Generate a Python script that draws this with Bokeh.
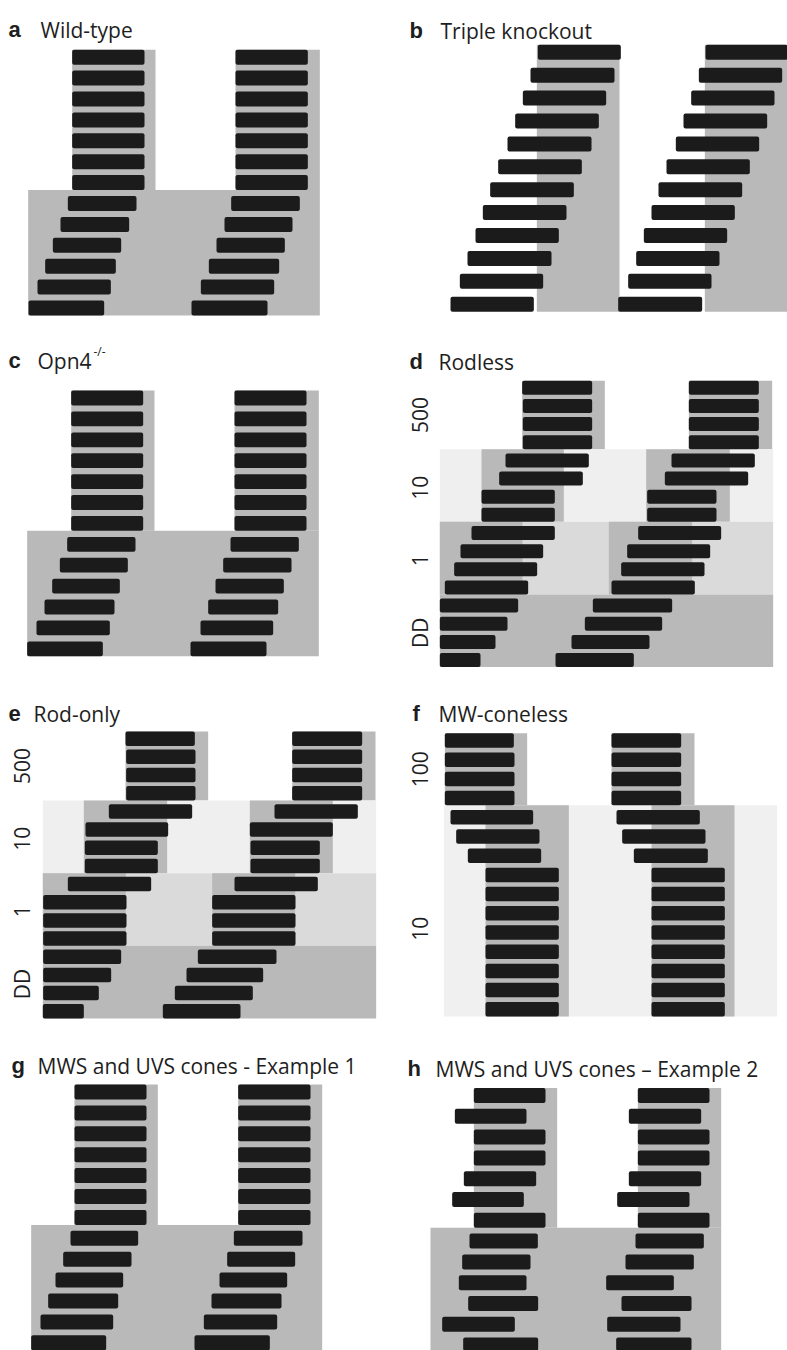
import math

from bokeh.embed import file_html
from bokeh.layouts import column, row
from bokeh.models import Label, Range1d
from bokeh.plotting import figure
from bokeh.resources import INLINE

# ---------------------------------------------------------------------------
# Schematic double-plotted actograms. Times are hours from the left edge of
# each actogram, rows are consecutive days (day 1 at the top).
# ---------------------------------------------------------------------------

# a  Wild-type
A_LEFT_ON = [6.6, 6.6, 6.6, 6.6, 6.6, 6.6, 6.6, 5.95, 4.85, 3.7, 2.55, 1.4, 0.05]
A_LEFT_OFF = [17.45, 17.45, 17.45, 17.45, 17.45, 17.45, 17.45, 16.25, 15.15, 13.95, 13.15, 12.4, 11.4]
A_RIGHT_ON = [31.1, 31.1, 31.1, 31.1, 31.1, 31.1, 31.1, 30.45, 29.45, 28.25, 27.1, 25.9, 24.5]
A_RIGHT_OFF = [41.95, 41.95, 41.95, 41.95, 41.95, 41.95, 41.95, 40.75, 39.65, 38.5, 37.65, 36.9, 35.9]
A_BLOCK_FIRST = [1, 8]
A_BLOCK_LAST = [7, 13]
A_BLOCK_LIGHT = [None, None]
A_DARK_START = [[6.6, 31.1], [0.0]]
A_DARK_END = [[19.1, 43.75], [43.75]]

# b  Triple knockout
B_LEFT_ON = [13.1, 12.0, 10.85, 9.7, 8.55, 7.15, 5.95, 4.85, 3.75, 2.55, 1.4, 0.0]
B_LEFT_OFF = [25.55, 24.6, 23.35, 22.25, 21.15, 19.7, 18.5, 17.4, 16.25, 15.15, 13.9, 12.5]
B_RIGHT_ON = [38.25, 37.25, 36.1, 34.95, 33.8, 32.4, 31.2, 30.15, 29.0, 27.85, 26.65, 25.15]
B_RIGHT_OFF = [50.7, 49.75, 48.6, 47.5, 46.3, 44.9, 43.75, 42.65, 41.5, 40.35, 39.15, 37.75]
B_BLOCK_FIRST = [1]
B_BLOCK_LAST = [12]
B_BLOCK_LIGHT = [None]
B_DARK_START = [[12.95, 38.15]]
B_DARK_END = [[25.35, 50.7]]

# c  Opn4 -/-
C_LEFT_ON = [6.6, 6.6, 6.6, 6.6, 6.6, 6.6, 6.6, 6.0, 4.9, 3.75, 2.6, 1.4, 0.0]
C_LEFT_OFF = [17.4, 17.4, 17.4, 17.4, 17.4, 17.4, 17.4, 16.25, 15.1, 13.9, 13.1, 12.4, 11.35]
C_RIGHT_ON = [31.1, 31.1, 31.1, 31.1, 31.1, 31.1, 31.1, 30.5, 29.4, 28.25, 27.15, 26.0, 24.5]
C_RIGHT_OFF = [41.9, 41.9, 41.9, 41.9, 41.9, 41.9, 41.9, 40.75, 39.65, 38.5, 37.65, 36.9, 35.9]
C_BLOCK_FIRST = [1, 8]
C_BLOCK_LAST = [7, 13]
C_BLOCK_LIGHT = [None, None]
C_DARK_START = [[6.6, 31.1], [0.0]]
C_DARK_END = [[19.1, 43.75], [43.75]]

# d  Rodless (light intensity in lux per block)
D_LEFT_ON = [12.35, 12.45, 12.45, 12.45, 9.85, 8.9, 6.25, 6.25, 4.75, 3.1, 2.15, 0.75, 0.0, 0.0, 0.0, 0.0]
D_LEFT_OFF = [22.85, 22.85, 22.85, 22.85, 22.35, 21.45, 17.25, 17.25, 17.25, 15.5, 14.6, 13.25, 11.75, 10.15, 8.35, 6.1]
D_RIGHT_ON = [37.35, 37.35, 37.35, 37.35, 34.75, 33.75, 31.1, 31.1, 29.75, 28.1, 27.2, 25.75, 22.95, 21.75, 19.75, 17.35]
D_RIGHT_OFF = [47.85, 47.85, 47.85, 47.85, 47.25, 46.25, 41.5, 41.5, 42.2, 40.55, 39.7, 38.25, 34.85, 33.35, 31.45, 29.1]
D_BLOCK_FIRST = [1, 5, 9, 13]
D_BLOCK_LAST = [4, 8, 12, 16]
D_BLOCK_LABELS = ["500", "10", "1", "DD"]
D_BLOCK_LIGHT = [None, "#efefef", "#dadada", None]
D_DARK_START = [[12.35, 37.35], [6.25, 30.95], [0.0, 25.35], [0.0]]
D_DARK_END = [[24.75, 49.85], [18.6, 43.5], [12.4, 37.85], [50.0]]

# e  Rod-only
E_LEFT_ON = [12.4, 12.5, 12.5, 12.5, 9.9, 6.4, 6.3, 6.3, 3.75, 0.05, 0.05, 0.05, 0.05, 0.05, 0.05, 0.0]
E_LEFT_OFF = [22.8, 22.9, 22.9, 22.9, 22.4, 18.8, 17.25, 17.25, 16.25, 12.55, 12.55, 12.55, 11.75, 10.25, 8.4, 6.15]
E_RIGHT_ON = [37.4, 37.4, 37.4, 37.4, 34.75, 31.05, 31.15, 31.15, 28.75, 25.4, 25.4, 25.4, 23.25, 21.55, 19.8, 18.0]
E_RIGHT_OFF = [47.9, 47.9, 47.9, 47.9, 47.25, 43.5, 41.55, 41.55, 41.25, 37.9, 37.9, 37.9, 35.05, 33.05, 31.5, 29.65]
E_BLOCK_FIRST = [1, 5, 9, 13]
E_BLOCK_LAST = [4, 8, 12, 16]
E_BLOCK_LABELS = ["500", "10", "1", "DD"]
E_BLOCK_LIGHT = [None, "#efefef", "#dadada", None]
E_DARK_START = [[12.4, 37.4], [6.15, 31.05], [0.0, 25.4], [0.0]]
E_DARK_END = [[24.8, 49.9], [18.65, 43.5], [12.45, 37.85], [50.0]]

# f  MW-coneless
F_LEFT_ON = [0.15, 0.15, 0.15, 0.15, 1.0, 1.85, 3.6, 6.25, 6.25, 6.25, 6.25, 6.25, 6.25, 6.25, 6.25]
F_LEFT_OFF = [10.5, 10.6, 10.6, 10.6, 13.4, 14.35, 14.6, 17.25, 17.25, 17.25, 17.25, 17.25, 17.25, 17.25, 17.25]
F_RIGHT_ON = [25.15, 25.15, 25.15, 25.15, 25.9, 26.75, 28.5, 31.15, 31.15, 31.15, 31.15, 31.15, 31.15, 31.15, 31.15]
F_RIGHT_OFF = [35.6, 35.6, 35.6, 35.6, 38.4, 39.25, 39.6, 42.15, 42.15, 42.15, 42.15, 42.15, 42.15, 42.15, 42.15]
F_BLOCK_FIRST = [1, 5]
F_BLOCK_LAST = [4, 15]
F_BLOCK_LABELS = ["100", "10"]
F_LABEL_ROWS = [2.5, 10.8]
F_BLOCK_LIGHT = [None, "#f0f0f0"]
F_DARK_START = [[0.15, 25.15], [6.25, 31.15]]
F_DARK_END = [[12.5, 37.6], [18.75, 43.6]]

# g  MWS and UVS cones - Example 1
G_LEFT_ON = [6.5, 6.5, 6.5, 6.5, 6.5, 6.5, 6.5, 5.9, 4.8, 3.65, 2.55, 1.4, 0.0]
G_LEFT_OFF = [17.3, 17.3, 17.3, 17.3, 17.3, 17.3, 17.3, 16.05, 15.05, 13.8, 13.05, 12.3, 11.25]
G_RIGHT_ON = [31.05, 31.05, 31.05, 31.05, 31.05, 31.05, 31.05, 30.4, 29.4, 28.25, 27.05, 25.9, 24.5]
G_RIGHT_OFF = [41.9, 41.9, 41.9, 41.9, 41.9, 41.9, 41.9, 40.7, 39.6, 38.4, 37.55, 36.9, 35.8]
G_BLOCK_FIRST = [1, 8]
G_BLOCK_LAST = [7, 13]
G_BLOCK_LIGHT = [None, None]
G_DARK_START = [[6.5, 31.05], [0.0]]
G_DARK_END = [[19.0, 43.65], [43.65]]

# h  MWS and UVS cones – Example 2
H_LEFT_ON = [6.5, 3.65, 6.5, 6.5, 5.0, 3.25, 6.5, 5.85, 4.75, 4.25, 5.65, 1.75, 4.9]
H_LEFT_OFF = [17.25, 14.4, 17.25, 17.25, 15.85, 14.0, 17.25, 16.1, 15.0, 14.4, 16.15, 12.65, 16.15]
H_RIGHT_ON = [31.1, 29.75, 31.1, 31.1, 29.75, 28.0, 31.1, 30.75, 29.25, 26.35, 28.65, 26.5, 27.85]
H_RIGHT_OFF = [41.85, 40.6, 41.85, 41.85, 40.6, 38.85, 41.85, 41.0, 39.5, 36.5, 39.15, 37.5, 39.15]
H_BLOCK_FIRST = [1, 8]
H_BLOCK_LAST = [7, 13]
H_BLOCK_LIGHT = [None, None]
H_DARK_START = [[6.5, 31.1], [0.0]]
H_DARK_END = [[19.0, 43.6], [43.6]]

# ---------------------------------------------------------------------------
PX_PER_HOUR = 20 / 3
BAR_COLOR = "#1b1b1b"
DARK_COLOR = "#b9b9b9"
TEXT_COLOR = "#1e1e1e"
TITLE_FONT = "Open Sans"
LETTER_FONT = "Liberation Sans"


def panel(letter, title, left_on, left_off, right_on, right_off,
          first, last, light, dark_start, dark_end, *,
          width, height, origin_px, row1_px, row_px, bar_px,
          letter_x, title_x, baseline, span=(0.0, 50.0),
          labels=None, label_rows=None, label_x=25, superscript=None):
    x_range = Range1d(-origin_px / PX_PER_HOUR, (width - origin_px) / PX_PER_HOUR)
    y_range = Range1d(1 + (height - row1_px) / row_px, 1 - row1_px / row_px)
    p = figure(width=width, height=height, x_range=x_range, y_range=y_range,
               output_backend="svg", toolbar_location=None,
               x_axis_location=None, y_axis_location=None,
               min_border=0, outline_line_color=None,
               background_fill_color="white", border_fill_color="white")
    p.xgrid.grid_line_color = None
    p.ygrid.grid_line_color = None

    hb = bar_px / row_px
    # lighting schedule, one block of days at a time
    for k in range(len(first)):
        top = first[k] - hb / 2 if k == 0 else first[k] - 1 + hb / 2
        bottom = last[k] + hb / 2
        if light[k] is not None:
            p.quad(left=span[0], right=span[1], top=top, bottom=bottom,
                   fill_color=light[k], line_color=None)
        n = len(dark_start[k])
        p.quad(left=dark_start[k], right=dark_end[k], top=[top] * n,
               bottom=[bottom] * n, fill_color=DARK_COLOR, line_color=None)

    # activity bouts, double plotted
    days = list(range(1, len(left_on) + 1))
    for on, off in ((left_on, left_off), (right_on, right_off)):
        p.hbar(y=days, left=on, right=off, height=hb, fill_color=BAR_COLOR,
               line_color=None, border_radius=2)

    p.add_layout(Label(x=letter_x, y=height - baseline, x_units="screen",
                       y_units="screen", text=letter, text_font=LETTER_FONT,
                       text_font_style="bold", text_font_size="22px",
                       text_color=TEXT_COLOR, text_baseline="alphabetic"))
    p.add_layout(Label(x=title_x, y=height - baseline, x_units="screen",
                       y_units="screen", text=title, text_font=TITLE_FONT,
                       text_font_size="21px", text_color=TEXT_COLOR,
                       text_baseline="alphabetic"))
    if superscript is not None:
        sx, sy, stext = superscript
        p.add_layout(Label(x=sx, y=height - sy, x_units="screen",
                           y_units="screen", text=stext, text_font=TITLE_FONT,
                           text_font_size="12px", text_color=TEXT_COLOR,
                           text_baseline="alphabetic"))
    if labels is not None:
        if label_rows is None:
            label_rows = [(a + b) / 2 for a, b in zip(first, last)]
        for txt, yy in zip(labels, label_rows):
            p.add_layout(Label(x=label_x, y=yy, x_units="screen", y_units="data",
                               text=txt, angle=math.pi / 2, text_align="center",
                               text_baseline="middle", text_font=TITLE_FONT,
                               text_font_size="21px", text_color=TEXT_COLOR))
    return p


pa = panel("a", "Wild-type", A_LEFT_ON, A_LEFT_OFF, A_RIGHT_ON, A_RIGHT_OFF,
           A_BLOCK_FIRST, A_BLOCK_LAST, A_BLOCK_LIGHT, A_DARK_START, A_DARK_END,
           width=394, height=336, origin_px=27.67, row1_px=56.7, row_px=20.9,
           bar_px=15, letter_x=8, title_x=40, baseline=29)
pb = panel("b", "Triple knockout", B_LEFT_ON, B_LEFT_OFF, B_RIGHT_ON, B_RIGHT_OFF,
           B_BLOCK_FIRST, B_BLOCK_LAST, B_BLOCK_LIGHT, B_DARK_START, B_DARK_END,
           width=393, height=336, origin_px=56, row1_px=51.8, row_px=22.9,
           bar_px=15, letter_x=15, title_x=46, baseline=30)
pc = panel("c", "Opn4", C_LEFT_ON, C_LEFT_OFF, C_RIGHT_ON, C_RIGHT_OFF,
           C_BLOCK_FIRST, C_BLOCK_LAST, C_BLOCK_LIGHT, C_DARK_START, C_DARK_END,
           width=394, height=350, origin_px=26.67, row1_px=61.5, row_px=20.9,
           bar_px=14.8, letter_x=8, title_x=37, baseline=24,
           superscript=(93, 15, "-/-"))
pd_ = panel("d", "Rodless", D_LEFT_ON, D_LEFT_OFF, D_RIGHT_ON, D_RIGHT_OFF,
            D_BLOCK_FIRST, D_BLOCK_LAST, D_BLOCK_LIGHT, D_DARK_START, D_DARK_END,
            width=393, height=350, origin_px=45.33, row1_px=51.3, row_px=18.15,
            bar_px=14, letter_x=15, title_x=44, baseline=25,
            labels=D_BLOCK_LABELS, label_x=25)
pe = panel("e", "Rod-only", E_LEFT_ON, E_LEFT_OFF, E_RIGHT_ON, E_RIGHT_OFF,
           E_BLOCK_FIRST, E_BLOCK_LAST, E_BLOCK_LIGHT, E_DARK_START, E_DARK_END,
           width=394, height=344, origin_px=42.33, row1_px=52.2, row_px=18.17,
           bar_px=14.5, letter_x=8, title_x=33, baseline=27,
           labels=E_BLOCK_LABELS, label_x=21)
pf = panel("f", "MW-coneless", F_LEFT_ON, F_LEFT_OFF, F_RIGHT_ON, F_RIGHT_OFF,
           F_BLOCK_FIRST, F_BLOCK_LAST, F_BLOCK_LIGHT, F_DARK_START, F_DARK_END,
           width=393, height=344, origin_px=49.33, row1_px=54, row_px=19.2,
           bar_px=14.5, letter_x=18, title_x=44, baseline=27,
           labels=F_BLOCK_LABELS, label_rows=F_LABEL_ROWS, label_x=25)
pg = panel("g", "MWS and UVS cones - Example 1", G_LEFT_ON, G_LEFT_OFF,
           G_RIGHT_ON, G_RIGHT_OFF, G_BLOCK_FIRST, G_BLOCK_LAST, G_BLOCK_LIGHT,
           G_DARK_START, G_DARK_END,
           width=394, height=320, origin_px=30.67, row1_px=61.5, row_px=20.9,
           bar_px=15, letter_x=11, title_x=37, baseline=35)
ph = panel("h", "MWS and UVS cones \u2013 Example 2", H_LEFT_ON, H_LEFT_OFF,
           H_RIGHT_ON, H_RIGHT_OFF, H_BLOCK_FIRST, H_BLOCK_LAST, H_BLOCK_LIGHT,
           H_DARK_START, H_DARK_END,
           width=393, height=320, origin_px=36, row1_px=65, row_px=20.8,
           bar_px=15, letter_x=13, title_x=41, baseline=38)

layout = column(row(pa, pb), row(pc, pd_), row(pe, pf), row(pg, ph))

with open("out.html", "w") as fh:
    fh.write(file_html(layout, INLINE, title="Actograms"))
